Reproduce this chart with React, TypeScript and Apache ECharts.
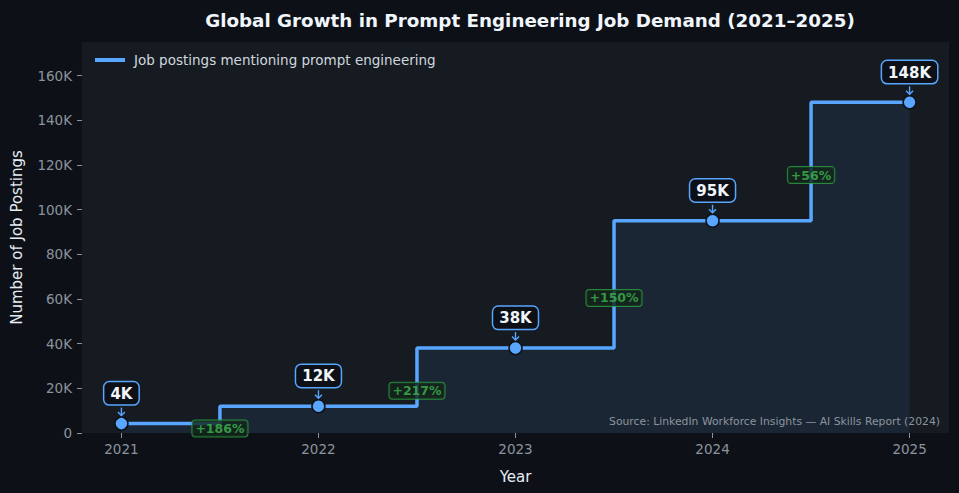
import React, { useEffect, useRef } from "react";
import * as echarts from "echarts";

const years = [2021, 2022, 2023, 2024, 2025];
const postings = [4200, 12000, 38000, 95000, 148000];
const yTicks = [0, 20000, 40000, 60000, 80000, 100000, 120000, 140000, 160000];
const seriesName = "Job postings mentioning prompt engineering";
const sourceNote = "Source: LinkedIn Workforce Insights — AI Skills Report (2024)";

const FONT = "DejaVu Sans, sans-serif";
const BLUE = "#58a6ff";
const GREEN = "#3fb950";

const fmtK = (v: number) => (v === 0 ? "0" : `${Math.round(v / 1000)}K`);

// growth badges sit halfway along each step, between the two levels
const growth = years.slice(1).map((y, i) => {
  const prev = postings[i];
  const cur = postings[i + 1];
  const pct = Math.round(((cur - prev) / prev) * 100);
  return [y - 0.5, (prev + cur) / 2, `+${pct}%`];
});

export default function App() {
  const ref = useRef<HTMLDivElement>(null);

  useEffect(() => {
    if (!ref.current) return;
    const chart = echarts.init(ref.current, null, { renderer: "svg" });
    const points = years.map((y, i) => [y, postings[i]]);

    chart.setOption({
      animation: false,
      backgroundColor: "#0d1117",
      textStyle: { fontFamily: FONT },
      title: {
        text: "Global Growth in Prompt Engineering Job Demand (2021–2025)",
        left: 525,
        top: 6,
        textAlign: "center",
        textStyle: { color: "#f0f6fc", fontSize: 18.3, fontWeight: "bold", fontFamily: FONT },
      },
      legend: {
        left: 88,
        top: 48,
        itemWidth: 30,
        itemHeight: 14,
        lineStyle: { width: 4, color: BLUE },
        itemStyle: { opacity: 0 },
        textStyle: { color: "#d0d7de", fontSize: 13.5, fontFamily: FONT, padding: [0, 0, 0, 4] },
        data: [seriesName],
      },
      grid: {
        left: 82,
        right: 10,
        top: 42,
        bottom: 60,
        show: true,
        backgroundColor: "#161b22",
        borderWidth: 0,
      },
      xAxis: {
        type: "value",
        min: 2020.8,
        max: 2025.2,
        name: "Year",
        nameLocation: "middle",
        nameGap: 36,
        nameTextStyle: { color: "#e6edf3", fontSize: 15, fontFamily: FONT },
        axisLine: { show: false },
        axisTick: { show: true, length: 5, customValues: years, lineStyle: { color: "#8b949e" } },
        axisLabel: { customValues: years, color: "#8b949e", fontSize: 13.5, margin: 9, formatter: (v: number) => String(v) },
        splitLine: { show: false },
      },
      yAxis: {
        type: "value",
        min: 0,
        max: 175000,
        name: "Number of Job Postings",
        nameLocation: "middle",
        nameGap: 58,
        nameTextStyle: { color: "#e6edf3", fontSize: 15, fontFamily: FONT },
        axisLine: { show: false },
        axisTick: { show: true, length: 5, customValues: yTicks, lineStyle: { color: "#8b949e" } },
        axisLabel: { customValues: yTicks, color: "#8b949e", fontSize: 13.5, margin: 10, formatter: fmtK },
        splitLine: { show: false },
      },
      series: [
        {
          name: seriesName,
          type: "line",
          step: "middle",
          data: points,
          z: 3,
          lineStyle: { color: BLUE, width: 3.5 },
          areaStyle: { color: "rgba(88,166,255,0.12)" },
          symbol: "circle",
          symbolSize: 13,
          showSymbol: true,
          itemStyle: { color: BLUE, borderColor: "#0d1117", borderWidth: 1.5 },
          label: {
            show: true,
            position: "top",
            distance: 12,
            formatter: (p: any) => fmtK(p.value[1]),
            color: "#f0f6fc",
            fontSize: 15,
            fontWeight: "bold",
            fontFamily: FONT,
            backgroundColor: "#0d1117",
            borderColor: BLUE,
            borderWidth: 1.5,
            borderRadius: 5,
            padding: [4, 6, 3, 6],
          },
          emphasis: { disabled: true },
        },
        {
          // small arrows pointing from each value badge down to its point
          type: "custom",
          silent: true,
          z: 4,
          data: points,
          renderItem: (_params: any, api: any) => {
            const [cx, cy] = api.coord([api.value(0), api.value(1)]);
            const top = cy - 16;
            const tip = cy - 8;
            const style = { stroke: BLUE, lineWidth: 1.4, fill: "none" };
            return {
              type: "group",
              children: [
                { type: "line", shape: { x1: cx, y1: top, x2: cx, y2: tip }, style },
                { type: "polyline", shape: { points: [[cx - 3.5, tip - 3.5], [cx, tip], [cx + 3.5, tip - 3.5]] }, style },
              ],
            };
          },
        },
        {
          // growth badges between consecutive years
          type: "scatter",
          data: growth,
          symbolSize: 0,
          z: 5,
          silent: true,
          label: {
            show: true,
            position: "inside",
            offset: [0, 13.5],
            formatter: (p: any) => p.value[2],
            color: GREEN,
            fontSize: 12.5,
            fontWeight: "bold",
            fontFamily: FONT,
            backgroundColor: "#13241a",
            borderColor: "#2ea043",
            borderWidth: 1,
            borderRadius: 3,
            padding: [2, 3, 1, 3],
          },
          emphasis: { disabled: true },
        },
      ],
      graphic: [
        {
          type: "text",
          right: 19,
          top: 416,
          z: 10,
          style: { text: sourceNote, fill: "#8b949e", fontSize: 10.8, fontFamily: FONT },
        },
      ],
    });

    return () => chart.dispose();
  }, []);

  return <div ref={ref} style={{ width: 959, height: 493, position: "fixed", left: 0, top: 0 }} />;
}
